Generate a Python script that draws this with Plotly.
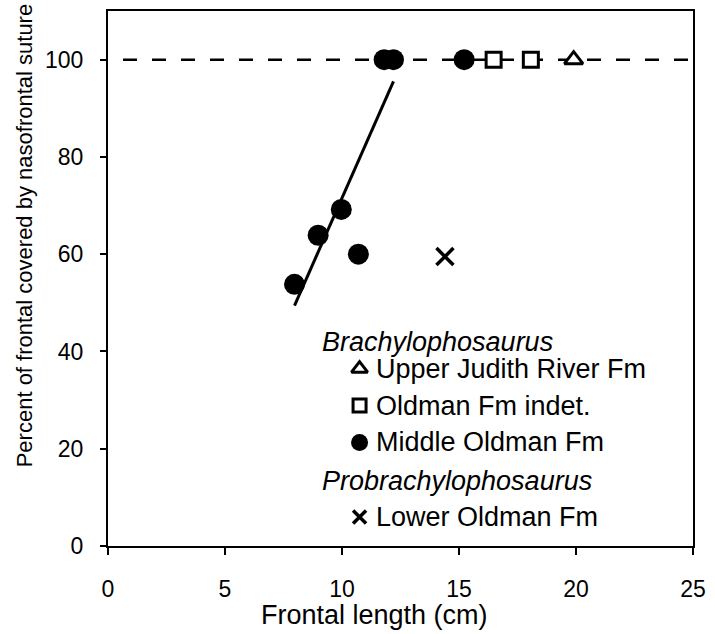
import numpy as np
import plotly.graph_objects as go

# ---------------- data ----------------
middle_x = [7.97, 8.98, 9.97, 10.7, 11.8, 12.2, 15.22]
middle_y = [53.8, 63.9, 69.2, 60.0, 100, 100, 100]
trend_x = [7.97, 8.98, 9.97, 10.7, 11.8, 12.2]          # growth series used for fit
trend_y = [53.8, 63.9, 69.2, 60.0, 100, 100]
indet_x = [16.48, 18.07]
indet_y = [100, 100]
judith_x = [19.9]
judith_y = [100]
lower_x = [14.4]
lower_y = [59.5]
ref_x = [0, 25]
ref_y = [100, 100]

x_ticks = [0, 5, 10, 15, 20, 25]
y_ticks = [0, 20, 40, 60, 80, 100]

FONT = "Liberation Sans, Arial, sans-serif"
BLACK = "#000000"

# plot-area geometry in pixels
L, R, T, B = 108, 701, 9, 546
W, H = 715, 634


def px(xp):
    return (xp - L) / (R - L)


def py(yp):
    return (B - yp) / (B - T)


# regression line over the growth series
slope, intercept = np.polyfit(trend_x, trend_y, 1)
fit_x = [min(trend_x), max(trend_x)]
fit_y = [slope * v + intercept for v in fit_x]

fig = go.Figure()

fig.add_trace(go.Scatter(x=ref_x, y=ref_y, mode="lines",
                         line=dict(color=BLACK, width=2.5, dash="0px,15px,14px,0px"),
                         showlegend=False, hoverinfo="skip"))
fig.add_trace(go.Scatter(x=fit_x, y=fit_y, mode="lines",
                         line=dict(color=BLACK, width=3), showlegend=False))
fig.add_trace(go.Scatter(x=middle_x, y=middle_y, mode="markers",
                         marker=dict(symbol="circle", size=21, color=BLACK),
                         showlegend=False))
fig.add_trace(go.Scatter(x=indet_x, y=indet_y, mode="markers",
                         marker=dict(symbol="square", size=15, color="white",
                                     line=dict(color=BLACK, width=3)),
                         showlegend=False))
fig.add_trace(go.Scatter(x=judith_x, y=judith_y, mode="markers",
                         marker=dict(symbol="triangle-up", size=16, color="white",
                                     line=dict(color=BLACK, width=3)),
                         showlegend=False))
fig.add_trace(go.Scatter(x=lower_x, y=lower_y, mode="markers",
                         marker=dict(symbol="x-thin-open", size=17, color=BLACK,
                                     line=dict(color=BLACK, width=3.5)),
                         showlegend=False))

# ---------------- legend (pixel overlay axes) ----------------
key_x = 363
key_rows = [
    ("triangle-up", 14, "white", 3, 368, "Upper Judith River Fm"),
    ("square", 13, "white", 3, 405, "Oldman Fm indet."),
    ("circle", 17, BLACK, 0, 442, "Middle Oldman Fm"),
    ("x-thin-open", 13, BLACK, 3.5, 517, "Lower Oldman Fm"),
]
for sym, sz, col, lw, ky, label in key_rows:
    fig.add_trace(go.Scatter(x=[key_x], y=[ky], xaxis="x2", yaxis="y2", mode="markers",
                             marker=dict(symbol=sym, size=sz, color=col,
                                         line=dict(color=BLACK, width=lw)),
                             showlegend=False, hoverinfo="skip"))
    fig.add_annotation(x=px(378), y=py(ky), xref="paper", yref="paper", text=label,
                       showarrow=False, xanchor="left", yanchor="middle",
                       font=dict(family=FONT, size=27, color=BLACK))
for ky, label in [(341, "<i>Brachylophosaurus</i>"), (481, "<i>Probrachylophosaurus</i>")]:
    fig.add_annotation(x=px(323), y=py(ky), xref="paper", yref="paper", text=label,
                       showarrow=False, xanchor="left", yanchor="middle",
                       font=dict(family=FONT, size=27, color=BLACK))

# axis titles
fig.add_annotation(x=px(378), y=py(615), xref="paper", yref="paper",
                   text="Frontal length (cm)",
                   showarrow=False, xanchor="center", yanchor="middle",
                   font=dict(family=FONT, size=27, color=BLACK))
fig.add_annotation(x=px(23), y=py(235), xref="paper", yref="paper",
                   text="Percent of frontal covered by nasofrontal suture",
                   showarrow=False, textangle=-90, xanchor="center", yanchor="middle",
                   font=dict(family=FONT, size=22, color=BLACK))

axis_common = dict(showgrid=False, zeroline=False, showline=True, linecolor=BLACK,
                   linewidth=2, mirror=True, ticks="outside", tickwidth=2,
                   tickcolor=BLACK, tickfont=dict(family=FONT, size=23, color=BLACK))

fig.update_layout(
    width=W, height=H,
    margin=dict(l=L, r=W - R, t=T, b=H - B),
    paper_bgcolor="white", plot_bgcolor="white",
    showlegend=False,
    xaxis=dict(range=[0, 25], tickvals=x_ticks, ticklen=7, ticklabelstandoff=14,
               **axis_common),
    yaxis=dict(range=[0, 110], tickvals=y_ticks, ticklen=6, ticklabelstandoff=12,
               **axis_common),
    xaxis2=dict(range=[L, R], overlaying="x", visible=False),
    yaxis2=dict(range=[B, T], overlaying="y", visible=False),
)

fig.write_html("out.html",
               config={"displayModeBar": False},
               post_script="document.body.style.margin='0';document.body.style.overflow='hidden';")
